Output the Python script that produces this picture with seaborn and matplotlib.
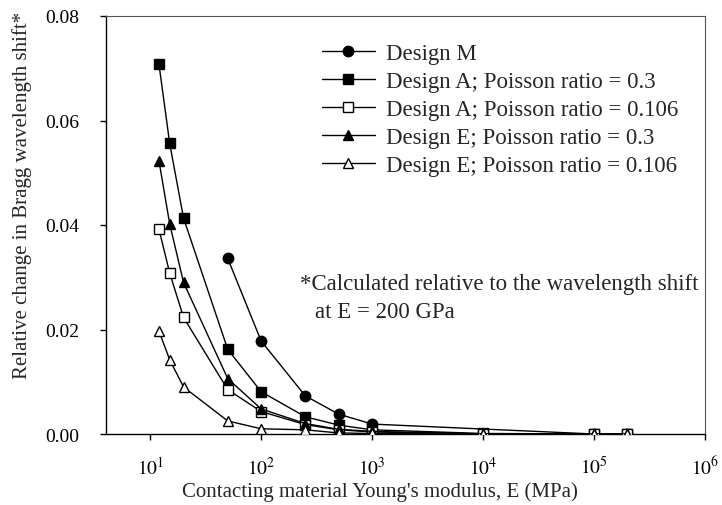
import matplotlib
matplotlib.use("Agg")
import matplotlib.pyplot as plt
import seaborn as sns
import pandas as pd
import numpy as np

sns.set_theme(style="white")
plt.rcParams['font.family'] = ['Liberation Serif', 'DejaVu Serif']
plt.rcParams['mathtext.fontset'] = 'stix'

# ---- data ----
x_M = [50, 100, 250, 500, 1000, 100000, 200000]
y_M = [0.0336, 0.0178, 0.0073, 0.0038, 0.0019, 0.0000, 0.0000]

x_AE = [12, 15, 20, 50, 100, 250, 500, 1000, 10000, 100000, 200000]
y_A03 = [0.0708, 0.0556, 0.0413, 0.0162, 0.0081, 0.0033, 0.0017, 0.0008, 0.0001, 0.0000, 0.0000]
y_A0106 = [0.0392, 0.0308, 0.0223, 0.0085, 0.0043, 0.0018, 0.0008, 0.0004, 0.0000, 0.0000, 0.0000]
y_E03 = [0.0523, 0.0402, 0.0290, 0.0106, 0.0048, 0.0020, 0.0009, 0.0005, 0.0000, 0.0000, 0.0000]
y_E0106 = [0.0197, 0.0142, 0.0090, 0.0025, 0.0010, 0.0008, 0.0002, 0.0001, 0.0000, 0.0000, 0.0000]

labels = ["Design M",
          "Design A; Poisson ratio = 0.3",
          "Design A; Poisson ratio = 0.106",
          "Design E; Poisson ratio = 0.3",
          "Design E; Poisson ratio = 0.106"]
series = [(x_M, y_M, 'o', 'black'),
          (x_AE, y_A03, 's', 'black'),
          (x_AE, y_A0106, 's', 'white'),
          (x_AE, y_E03, '^', 'black'),
          (x_AE, y_E0106, '^', 'white')]

W, H = 722, 506
fig = plt.figure(figsize=(W/100, H/100), dpi=100)
ax = fig.add_axes([106/W, 1-435/H, (705-106)/W, (435-17)/H])

for (xs, ys, mk, fc), lab in zip(series, labels):
    df = pd.DataFrame({"x": xs, "y": ys})
    sns.lineplot(data=df, x="x", y="y", ax=ax, color="black", lw=1.0,
                 marker=mk, markersize=7.5, markerfacecolor=fc,
                 markeredgecolor="black", markeredgewidth=1.0,
                 label=lab, legend=False, zorder=3)

ax.set_xscale("log")
ax.set_xlim(4, 1e6)
ax.set_ylim(0, 0.08)
ax.set_xticks([1e1, 1e2, 1e3, 1e4, 1e5, 1e6])
ax.set_xticklabels([r"$10^{%d}$" % k for k in range(1, 7)])
ax.xaxis.set_minor_locator(matplotlib.ticker.NullLocator())
ax.set_yticks([0, 0.02, 0.04, 0.06, 0.08])
ax.set_yticklabels(["0.00", "0.02", "0.04", "0.06", "0.08"])
ax.tick_params(axis="both", which="major", direction="out", length=4.5, width=1,
               colors="black", labelsize=14, bottom=True, left=True)
ax.tick_params(axis="x", pad=11)
ax.tick_params(axis="y", pad=15)

for s in ["left", "bottom"]:
    ax.spines[s].set_color("black")
    ax.spines[s].set_linewidth(1.0)
for s in ["top", "right"]:
    ax.spines[s].set_color("#555555")
    ax.spines[s].set_linewidth(0.8)

ax.set_xlabel("")
ax.set_ylabel("")
fig.text(380/W, 1-492/H, "Contacting material Young's modulus, E (MPa)",
         fontsize=15, ha="center", va="center")
fig.text(22/W, 1-195/H, "Relative change in Bragg wavelength shift*",
         fontsize=15, ha="center", va="center", rotation=90)

ax.legend(loc="upper left", bbox_to_anchor=(322/W, 1-44/H),
          bbox_transform=fig.transFigure,
          frameon=False, fontsize=16.5, handlelength=2.3, handletextpad=0.5,
          labelspacing=0.3, borderpad=0, borderaxespad=0)

fig.text(300/W, 1-285/H, "*Calculated relative to the wavelength shift",
         fontsize=16.5, va="center", ha="left")
fig.text(315/W, 1-312/H, "at E = 200 GPa",
         fontsize=16.5, va="center", ha="left")

fig.savefig("out.png", dpi=100)
